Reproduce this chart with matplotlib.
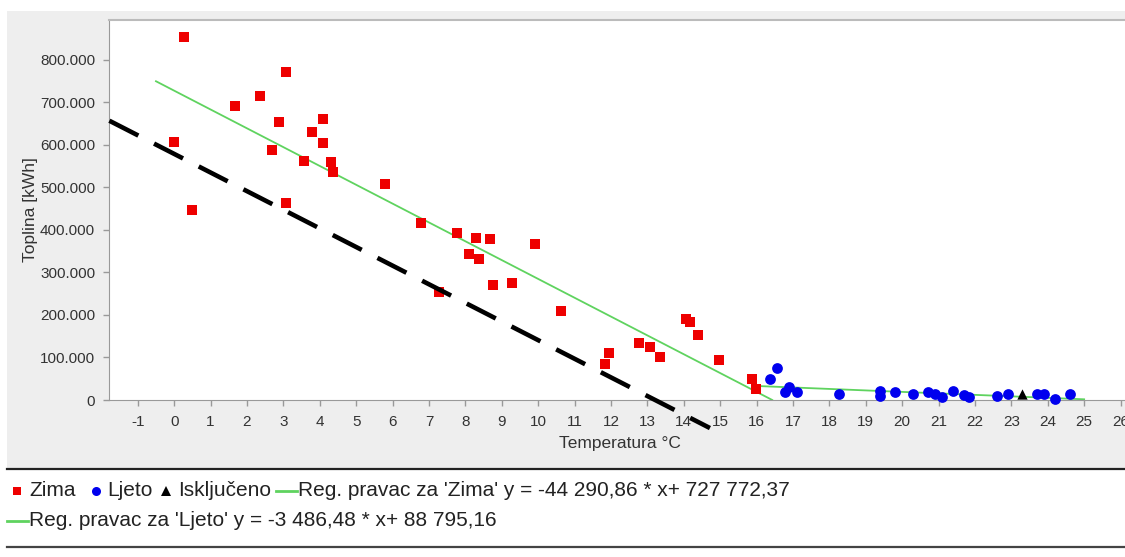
import matplotlib
matplotlib.use("Agg")
import matplotlib.pyplot as plt
from matplotlib.patches import Rectangle
from matplotlib.lines import Line2D
from matplotlib.ticker import FuncFormatter

plt.rcParams["font.family"] = ["Liberation Sans", "DejaVu Sans"]
plt.rcParams["axes.unicode_minus"] = False

# Zima (winter) points: temperature [°C], heat [kWh]
zima_temp = [0.0, 0.28, 0.49, 1.66, 2.37, 2.68, 2.87, 3.07, 3.07, 3.58, 3.78,
             4.09, 4.09, 4.30, 4.36, 5.79, 6.78, 7.27, 7.78, 8.11, 8.29, 8.37,
             8.69, 8.76, 9.27, 9.91, 10.63, 11.84, 11.96, 12.76, 13.07, 13.35,
             14.05, 14.17, 14.38, 14.96, 15.87, 15.99]
zima_heat = [608000, 853000, 447000, 692000, 715000, 588000, 653000, 772000,
             463000, 562000, 631000, 661000, 604000, 559000, 536000, 509000,
             417000, 255000, 394000, 344000, 382000, 332000, 379000, 271000,
             275000, 366000, 210000, 84000, 110000, 133000, 125000, 102000,
             190000, 183000, 152000, 94000, 50000, 27000]

# Ljeto (summer) points
ljeto_temp = [16.56, 16.37, 16.90, 16.77, 17.10, 18.26, 19.38, 19.38, 19.80,
              20.29, 20.70, 20.90, 21.10, 21.40, 21.70, 21.83, 22.60, 22.90,
              23.70, 23.90, 24.20, 24.60]
ljeto_heat = [76000, 49000, 31000, 18000, 18000, 14000, 20000, 9000, 18000,
              14000, 18000, 14000, 8000, 20000, 12000, 8000, 10000, 14000,
              14000, 14000, 2000, 14000]

# Isključeno (excluded)
iskljuceno_temp = [23.3]
iskljuceno_heat = [14000]

# regression lines from the legend
zima_k, zima_n = -44290.86, 727772.37
ljeto_k, ljeto_n = -3486.48, 88795.16
zima_x = [-0.5, 16.43]
ljeto_x = [15.9, 25.0]

# hand-drawn dashed line
hand_x = [-1.78, 14.72]
hand_y = [657000, -66000]

x_ticks = list(range(-1, 27))
y_ticks = list(range(0, 800001, 100000))

W, H = 1125, 557
fig = plt.figure(figsize=(W / 100, H / 100), dpi=100)
fig.patch.set_facecolor("white")

# grey chart panel
fig.add_artist(Rectangle((7 / W, (H - 469) / H), 1.0, (469 - 11) / H,
                         transform=fig.transFigure, facecolor="#eeeeee",
                         edgecolor="none", zorder=-2))

ax = fig.add_axes([109 / W, (H - 400) / H, (1130 - 109) / W, (400 - 20) / H])
ax.set_facecolor("white")

ax.plot(zima_x, [zima_k * x + zima_n for x in zima_x], color="#5fd35f",
        lw=1.3, zorder=2)
ax.plot(ljeto_x, [ljeto_k * x + ljeto_n for x in ljeto_x], color="#5fd35f",
        lw=1.3, zorder=2)
ax.scatter(zima_temp, zima_heat, marker="s", s=55, color="#ee0000",
           linewidths=0, zorder=3)
ax.scatter(ljeto_temp, ljeto_heat, marker="o", s=60, color="#0000ee",
           linewidths=0, zorder=3, clip_on=False)
ax.scatter(iskljuceno_temp, iskljuceno_heat, marker="^", s=55, color="black",
           linewidths=0, zorder=3)
ax.plot(hand_x, hand_y, color="black", lw=3.3, linestyle=(0, (7.1, 3.85)),
        solid_capstyle="butt", clip_on=False, zorder=4)

ax.set_xlim(-1.79, 26.26)
ax.set_ylim(0, 894000)
ax.set_xticks(x_ticks)
ax.set_yticks(y_ticks)
ax.yaxis.set_major_formatter(FuncFormatter(lambda v, _: f"{int(v):,}".replace(",", ".")))
ax.tick_params(axis="both", labelsize=11, labelcolor="#333333", color="#999999",
               length=4, width=1)
ax.tick_params(axis="y", pad=6)
ax.tick_params(axis="x", pad=7)
for side in ["left", "bottom"]:
    ax.spines[side].set_color("#999999")
ax.spines["top"].set_color("#bbbbbb")
ax.spines["top"].set_linewidth(1.5)
ax.spines["right"].set_visible(False)

ax.set_ylabel("Toplina [kWh]", fontsize=12.5, color="#333333")
ax.yaxis.set_label_coords((38 - 109) / 1021, 0.5)
ax.set_xlabel("Temperatura °C", fontsize=12.5, color="#333333", va="top")
ax.xaxis.set_label_coords(0.5, (400 - 436) / 380)

# overlay in pixel coordinates for the legend band
ov = fig.add_axes([0, 0, 1, 1])
ov.set_xlim(0, W)
ov.set_ylim(H, 0)
ov.axis("off")
ov.patch.set_alpha(0)
ov.add_line(Line2D([7, W], [469, 469], color="#222222", lw=1.6))
ov.add_line(Line2D([7, W], [547, 547], color="#444444", lw=1.6))

renderer = fig.canvas.get_renderer()


def legend_row(items, x, y):
    for gap, kind, style, label in items:
        x += gap
        if kind == "marker":
            ov.plot([x + 4], [y], linestyle="none", **style)
            x += 16
        else:
            ov.plot([x, x + 21], [y, y], **style)
            x += 22
        t = ov.text(x, y, label, fontsize=15, va="center", color="#222222")
        x += t.get_window_extent(renderer).width


green = dict(color="#5fd35f", lw=2)
legend_row([
    (0, "marker", dict(marker="s", ms=6, color="#ee0000", mew=0), "Zima"),
    (16, "marker", dict(marker="o", ms=6.5, color="#0000ee", mew=0), "Ljeto"),
    (9, "marker", dict(marker="^", ms=6.5, color="black", mew=0), "Isključeno"),
    (5, "line", green, "Reg. pravac za 'Zima' y = -44 290,86 * x+ 727 772,37"),
], 13, 491)
legend_row([
    (0, "line", green, "Reg. pravac za 'Ljeto' y = -3 486,48 * x+ 88 795,16"),
], 7, 521)

fig.savefig("out.png", dpi=100)
